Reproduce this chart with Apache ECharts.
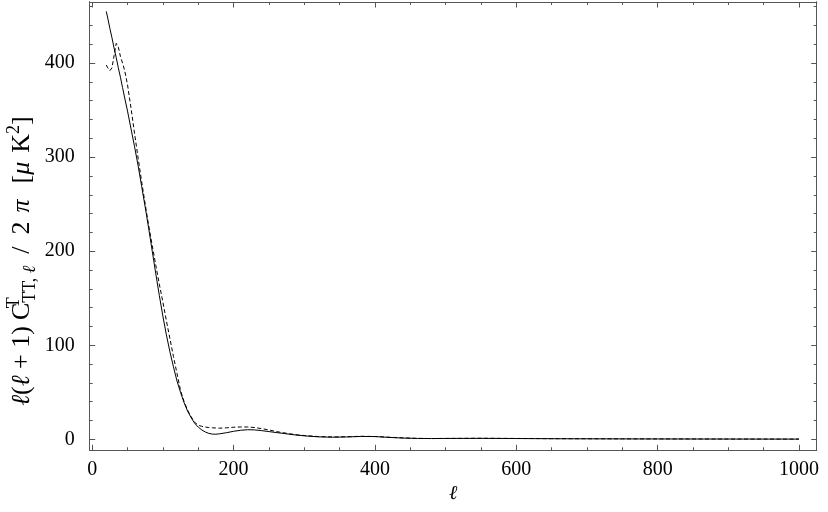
<!DOCTYPE html>
<html>
<head>
<meta charset="utf-8">
<script src="https://cdn.jsdelivr.net/npm/echarts@6/dist/echarts.min.js"></script>
<style>
  html, body { margin: 0; padding: 0; background: #fff; }
  #chart { width: 828px; height: 512px; }
</style>
</head>
<body>
<div id="chart"></div>
<script>
// multipole values (l) shared by both curves
const ells = [20, 22, 25, 28, 31, 34, 37, 40, 43, 46, 50, 55, 60, 65, 70, 75, 80, 85, 90, 95,
  100, 105, 110, 115, 120, 125, 130, 135, 140, 145, 150, 155, 160, 165, 170, 175, 180, 190, 200,
  210, 220, 230, 240, 250, 260, 270, 280, 290, 300, 320, 340, 360, 380, 400, 420, 440, 460, 480,
  500, 550, 600, 650, 700, 750, 800, 850, 900, 950, 1000];

// solid curve
const solidVals = [455, 448, 437, 427, 416, 406, 395, 385, 374, 363, 349, 330, 311, 291, 269, 247,
  224, 200, 176, 153, 131, 111, 93, 77, 62, 50, 39, 30, 23, 17, 13, 10, 7.8, 6.3, 5.5, 5.4, 5.8,
  7, 8.5, 9.6, 10.2, 10, 9.2, 8.2, 7.2, 6.3, 5.3, 4.4, 3.7, 2.6, 2.2, 2.5, 3.0, 2.9, 2.0, 1.3,
  0.9, 0.8, 0.9, 1.0, 0.8, 0.6, 0.5, 0.4, 0.35, 0.3, 0.25, 0.22, 0.2];

// dashed curve
const dashedVals = [398, 395, 392, 395, 408, 421, 417, 407, 400, 392, 377, 352, 325, 299, 274, 250,
  227, 206, 185, 165, 146, 126, 107, 88, 70, 52, 40, 31, 24, 18, 15, 13.8, 13, 12.5, 12.2, 12,
  11.8, 12.2, 12.8, 13.1, 13.1, 12.5, 11.3, 10, 8.3, 7, 5.8, 4.8, 4, 2.9, 2.5, 2.7, 3.2, 3, 2.2,
  1.5, 1.0, 0.8, 0.9, 1.1, 0.9, 0.7, 0.6, 0.5, 0.4, 0.35, 0.3, 0.25, 0.2];

// tick marks
const xMajor = [0, 200, 400, 600, 800, 1000];
const xMinor = [0, 50, 100, 150, 200, 250, 300, 350, 400, 450, 500, 550, 600, 650, 700, 750, 800, 850, 900, 950, 1000];
const yMajor = [0, 100, 200, 300, 400];
const yMinor = [0, 20, 40, 60, 80, 100, 120, 140, 160, 180, 200, 220, 240, 260, 280, 300, 320, 340, 360, 380, 400, 420, 440, 460];

const X_MIN = -3.5, X_MAX = 1025;
const Y_MIN = -11.7, Y_MAX = 465;
const FONT = '"Liberation Serif", "DejaVu Serif", serif';
const FRAME = '#555';

function pairs(xs, ys) {
  return xs.map(function (x, i) { return [x, ys[i]]; });
}

function plain(v) { return String(v); }

function xAx(pos, ticks, len, labels) {
  return {
    type: 'value', position: pos, min: X_MIN, max: X_MAX,
    axisLine: { show: true, onZero: false, lineStyle: { color: FRAME, width: 1 } },
    axisTick: { show: true, inside: true, length: len, customValues: ticks, lineStyle: { color: FRAME } },
    axisLabel: labels ? { show: true, customValues: ticks, formatter: plain, margin: 9, color: '#000', fontFamily: FONT, fontSize: 20 } : { show: false },
    splitLine: { show: false }
  };
}

function yAx(pos, ticks, len, labels) {
  return {
    type: 'value', position: pos, min: Y_MIN, max: Y_MAX,
    axisLine: { show: true, onZero: false, lineStyle: { color: FRAME, width: 1 } },
    axisTick: { show: true, inside: true, length: len, customValues: ticks, lineStyle: { color: FRAME } },
    axisLabel: labels ? { show: true, customValues: ticks, formatter: plain, margin: 15, color: '#000', fontFamily: FONT, fontSize: 20 } : { show: false },
    splitLine: { show: false }
  };
}

const chart = echarts.init(document.getElementById('chart'));

const xBottom = xAx('bottom', xMajor, 5.5, true);
xBottom.name = 'ℓ';
xBottom.nameLocation = 'middle';
xBottom.nameGap = 33;
xBottom.nameTextStyle = { color: '#000', fontFamily: FONT, fontSize: 20, fontStyle: 'italic' };

const main = { fontFamily: FONT, fontSize: 26, lineHeight: 34, fill: '#000' };
const small = { fontFamily: FONT, fontSize: 18, lineHeight: 17, fill: '#000' };
function gap(w) { return Object.assign({}, main, { width: w }); }

const option = {
  animation: false,
  backgroundColor: '#fff',
  grid: { left: 89.7, right: 11.3, top: 2, bottom: 61.7, containLabel: false },
  xAxis: [xBottom, xAx('bottom', xMinor, 3, false), xAx('top', xMajor, 5.5, false), xAx('top', xMinor, 3, false)],
  yAxis: [yAx('left', yMajor, 5.5, true), yAx('left', yMinor, 3, false), yAx('right', yMajor, 5.5, false), yAx('right', yMinor, 3, false)],
  graphic: [{
    type: 'text',
    x: 22, y: 261,
    rotation: Math.PI / 2,
    style: {
      text: '{it|ℓ}{n|(}{it|ℓ}{n| + 1)}{g6| }{n|C}{sup|T}{sub|TT, }{subit|ℓ}{g12| }{n|/}{g12| }{n|2}{g9| }{it|π}{g16| }{n|[}{it|μ}{g9| }{n|K}{sup2|2}{n|]}',
      align: 'center',
      verticalAlign: 'middle',
      fill: '#000',
      rich: {
        n: main,
        it: Object.assign({}, main, { fontStyle: 'italic' }),
        g6: gap(6),
        g9: gap(9),
        g12: gap(12),
        g16: gap(16),
        sup: Object.assign({}, small, { verticalAlign: 'top', width: 0 }),
        sup2: Object.assign({}, small, { verticalAlign: 'top' }),
        sub: Object.assign({}, small, { verticalAlign: 'bottom' }),
        subit: Object.assign({}, small, { verticalAlign: 'bottom', fontStyle: 'italic' })
      }
    }
  }],
  series: [{
    type: 'line',
    xAxisIndex: 0, yAxisIndex: 0,
    data: pairs(ells, dashedVals),
    showSymbol: false,
    lineStyle: { color: '#000', width: 1, type: [4, 2.5] }
  }, {
    type: 'line',
    xAxisIndex: 0, yAxisIndex: 0,
    data: pairs(ells, solidVals),
    showSymbol: false,
    lineStyle: { color: '#000', width: 1 }
  }]
};

chart.setOption(option);
</script>
</body>
</html>
